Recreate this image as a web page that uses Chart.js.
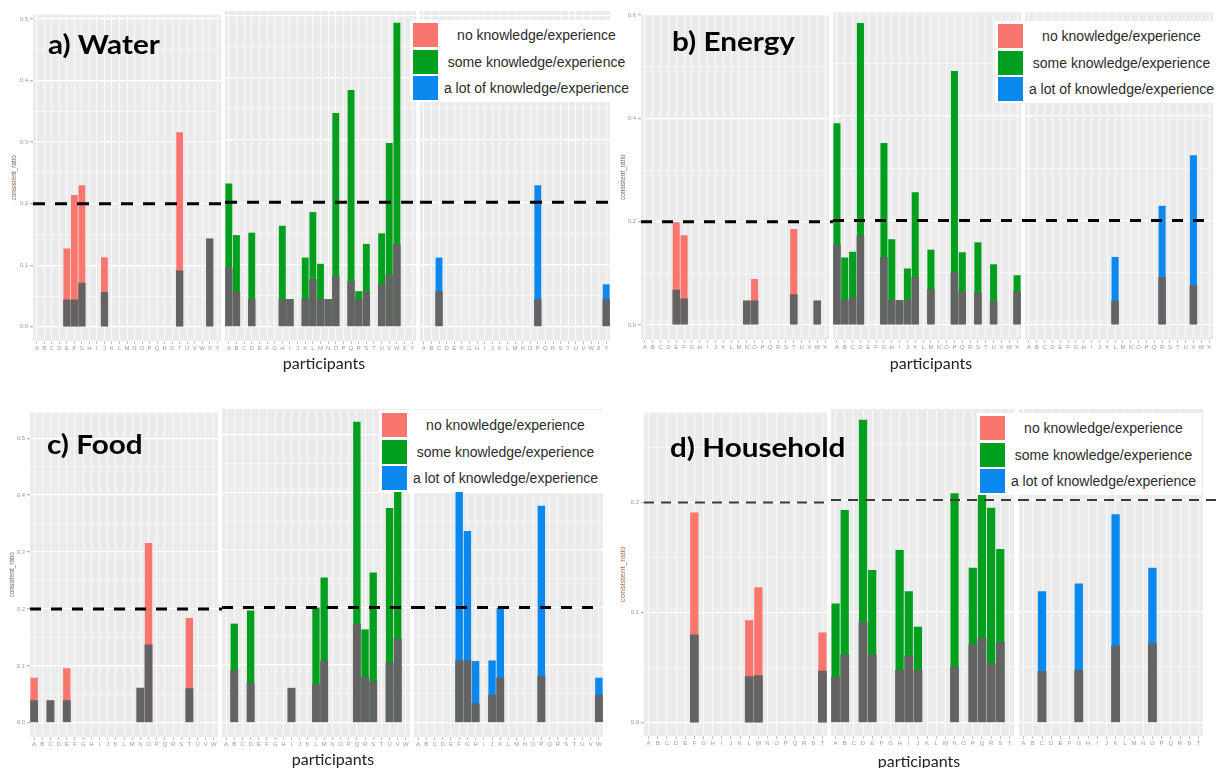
<!DOCTYPE html>
<html>
<head>
<meta charset="utf-8">
<script src="https://cdn.jsdelivr.net/npm/chart.js@4.4.1/dist/chart.umd.min.js"></script>
<style>
  body { margin: 0; width: 1220px; height: 768px; background: #fff; position: relative; overflow: hidden;
         font-family: "Liberation Sans", Arial, sans-serif; }
  canvas { position: absolute; }
  .title { position: absolute; font-family: Lato, sans-serif; font-weight: bold; font-size: 27px;
           line-height: 1; color: #000; white-space: nowrap; transform: scaleX(1.1); transform-origin: left top; }
  .xlab { position: absolute; font-family: Lato, sans-serif; font-size: 16px; line-height: 1;
          color: #222; transform: translateX(-50%); white-space: nowrap; }
  .legend { position: absolute; background: #fff; padding-top: 2px; }
  .row { display: flex; align-items: center; height: 26.5px; }
  .key { width: 25px; height: 24px; margin-left: 3px; flex: none; }
  .row span { flex: 1; text-align: center; font-size: 14px; color: #2b2b2b; white-space: nowrap; }
</style>
</head>
<body>
<script>
// participants per facet (x tick labels)
const waterLetters = "ABCDEFGHIJKLMNOPQRSTUVWXY".split("");
const energyLetters = "ABCDEFGHIJKLMNOPQRSTUVWX".split("");
const foodLetters = "ABCDEFGHIJKLMNOPQRSTUVW".split("");
const householdLetters = "ABCDEFGHIJKLMNOPQRST".split("");

// y ticks (grid) and the labelled ones
const waterTicks = [0, 0.05, 0.1, 0.15, 0.2, 0.25, 0.3, 0.35, 0.4, 0.45, 0.5];
const waterMajor = [0, 0.1, 0.2, 0.3, 0.4, 0.5];
const energyTicks = [0, 0.1, 0.2, 0.3, 0.4, 0.5, 0.6];
const energyMajor = [0, 0.2, 0.4, 0.6];
const foodTicks = [0, 0.05, 0.1, 0.15, 0.2, 0.25, 0.3, 0.35, 0.4, 0.45, 0.5];
const foodMajor = [0, 0.1, 0.2, 0.3, 0.4, 0.5];
const householdTicks = [0, 0.05, 0.1, 0.15, 0.2, 0.25];
const householdMajor = [0, 0.1, 0.2];

const threshold = 0.2;

const levelNames = ["no knowledge/experience", "some knowledge/experience", "a lot of knowledge/experience"];
const levelColors = ["#F8766D", "#00A01E", "#0A88EE"];
const baseColor = "#636363";

// a) Water
const waterNoIds = ["E", "F", "G", "J", "T", "X"];
const waterNoBase = [0.044, 0.044, 0.071, 0.056, 0.091, 0.143];
const waterNoTotal = [0.127, 0.214, 0.230, 0.113, 0.316, 0.143];
const waterSomeIds = ["A", "B", "D", "H", "I", "K", "L", "M", "N", "O", "Q", "R", "S", "U", "V", "W"];
const waterSomeBase = [0.094, 0.056, 0.044, 0.044, 0.044, 0.044, 0.076, 0.044, 0.044, 0.081, 0.073, 0.044, 0.056, 0.067, 0.083, 0.132];
const waterSomeTotal = [0.230, 0.147, 0.151, 0.162, 0.044, 0.111, 0.184, 0.101, 0.044, 0.343, 0.380, 0.057, 0.133, 0.150, 0.295, 0.488];
const waterLotIds = ["C", "P", "Y"];
const waterLotBase = [0.057, 0.044, 0.044];
const waterLotTotal = [0.111, 0.227, 0.068];

// b) Energy
const energyNoIds = ["E", "F", "N", "O", "T", "W"];
const energyNoBase = [0.068, 0.051, 0.047, 0.047, 0.059, 0.047];
const energyNoTotal = [0.199, 0.174, 0.047, 0.089, 0.186, 0.047];
const energySomeIds = ["A", "B", "C", "D", "G", "H", "I", "J", "K", "M", "P", "Q", "S", "U", "X"];
const energySomeBase = [0.153, 0.047, 0.052, 0.170, 0.129, 0.047, 0.047, 0.047, 0.091, 0.068, 0.100, 0.064, 0.061, 0.045, 0.064];
const energySomeTotal = [0.386, 0.129, 0.140, 0.578, 0.348, 0.164, 0.047, 0.108, 0.254, 0.144, 0.486, 0.139, 0.158, 0.116, 0.095];
const energyLotIds = ["L", "R", "V"];
const energyLotBase = [0.046, 0.091, 0.075];
const energyLotTotal = [0.130, 0.228, 0.325];

// c) Food
const foodNoIds = ["A", "C", "E", "N", "O", "T"];
const foodNoBase = [0.039, 0.039, 0.039, 0.061, 0.137, 0.060];
const foodNoTotal = [0.079, 0.039, 0.096, 0.061, 0.316, 0.184];
const foodSomeIds = ["B", "D", "I", "L", "M", "Q", "R", "S", "U", "V"];
const foodSomeBase = [0.091, 0.068, 0.060, 0.066, 0.107, 0.171, 0.079, 0.072, 0.104, 0.146];
const foodSomeTotal = [0.172, 0.195, 0.060, 0.200, 0.252, 0.523, 0.162, 0.261, 0.373, 0.410];
const foodLotIds = ["F", "G", "H", "J", "K", "P", "W"];
const foodLotBase = [0.108, 0.108, 0.033, 0.048, 0.078, 0.081, 0.048];
const foodLotTotal = [0.410, 0.333, 0.107, 0.108, 0.200, 0.377, 0.078];

// d) Household
const householdNoIds = ["F", "L", "M", "T"];
const householdNoBase = [0.080, 0.042, 0.043, 0.047];
const householdNoTotal = [0.191, 0.093, 0.123, 0.082];
const householdSomeIds = ["A", "B", "D", "E", "H", "I", "J", "N", "P", "Q", "R", "S"];
const householdSomeBase = [0.041, 0.061, 0.090, 0.061, 0.047, 0.060, 0.047, 0.050, 0.070, 0.076, 0.053, 0.072];
const householdSomeTotal = [0.107, 0.191, 0.272, 0.137, 0.155, 0.118, 0.086, 0.206, 0.139, 0.212, 0.193, 0.156];
const householdLotIds = ["C", "G", "K", "O"];
const householdLotBase = [0.046, 0.047, 0.069, 0.071];
const householdLotTotal = [0.118, 0.125, 0.187, 0.139];

// layout of the four panels (pixels on the page)
const panels = [
  { title: "a) Water", titlePos: [48, 30], xlabPos: [324, 355], legendPos: [410, 20],
    letters: waterLetters, ticks: waterTicks, major: waterMajor,
    facets: [[33, 221], [225, 416], [420, 610]], top: 11, bottom: 341, yMin: -0.023, yMax: 0.507,
    axisLeft: 10, dash: [12, 10], dashWidth: 3, dashColor: "#000", dashEnd: 0,
    yTitleSize: 6.5, yTitleColor: "#7a5a52",
    levels: [[waterNoIds, waterNoBase, waterNoTotal], [waterSomeIds, waterSomeBase, waterSomeTotal], [waterLotIds, waterLotBase, waterLotTotal]] },
  { title: "b) Energy", titlePos: [672, 27], xlabPos: [931, 355], legendPos: [995, 21],
    letters: energyLetters, ticks: energyTicks, major: energyMajor,
    facets: [[641, 829], [833, 1021], [1025, 1213]], top: 11, bottom: 340, yMin: -0.029, yMax: 0.601,
    axisLeft: 619, dash: [11, 10], dashWidth: 3, dashColor: "#000", dashEnd: 0,
    yTitleSize: 6.5, yTitleColor: "#7a5a52",
    levels: [[energyNoIds, energyNoBase, energyNoTotal], [energySomeIds, energySomeBase, energySomeTotal], [energyLotIds, energyLotBase, energyLotTotal]] },
  { title: "c) Food", titlePos: [47, 430], xlabPos: [333, 751], legendPos: [379, 410],
    letters: foodLetters, ticks: foodTicks, major: foodMajor,
    facets: [[30, 218], [222, 410], [414, 603]], top: 409, bottom: 737, yMin: -0.025, yMax: 0.545,
    axisLeft: 8, dash: [11, 10], dashWidth: 3, dashColor: "#000", dashEnd: 0,
    yTitleSize: 6.5, yTitleColor: "#7a5a52",
    levels: [[foodNoIds, foodNoBase, foodNoTotal], [foodSomeIds, foodSomeBase, foodSomeTotal], [foodLotIds, foodLotBase, foodLotTotal]] },
  { title: "d) Household", titlePos: [670, 433], xlabPos: [919, 753], legendPos: [977, 413],
    letters: householdLetters, ticks: householdTicks, major: householdMajor,
    facets: [[644, 827], [831, 1014], [1019, 1203]], top: 409, bottom: 736, yMin: -0.012, yMax: 0.2816,
    axisLeft: 618, dash: [10, 7], dashWidth: 2, dashColor: "#3a3a3a", dashEnd: 17,
    yTitleSize: 8, yTitleColor: "#b0684a",
    levels: [[householdNoIds, householdNoBase, householdNoTotal], [householdSomeIds, householdSomeBase, householdSomeTotal], [householdLotIds, householdLotBase, householdLotTotal]] }
];

const panelBg = {
  id: "panelBg",
  beforeDraw(chart) {
    const a = chart.chartArea, ctx = chart.ctx;
    ctx.save();
    ctx.fillStyle = "#ebebeb";
    ctx.fillRect(a.left, a.top, a.right - a.left, a.bottom - a.top);
    ctx.restore();
  }
};

const refLine = {
  id: "refLine",
  afterDatasetsDraw(chart, args, opts) {
    const ctx = chart.ctx;
    const y = chart.scales.y.getPixelForValue(threshold);
    ctx.save();
    ctx.setLineDash(opts.dash);
    ctx.lineWidth = opts.width;
    ctx.strokeStyle = opts.color;
    ctx.beginPath();
    ctx.moveTo(chart.chartArea.left, y);
    ctx.lineTo(chart.width, y);
    ctx.stroke();
    ctx.restore();
  }
};

const isMajor = (list, v) => list.some((m) => Math.abs(m - v) < 1e-9);

function makeFacet(p, fi) {
  const [x0, x1] = p.facets[fi];
  const first = fi === 0;
  const axisW = first ? x0 - p.axisLeft : 0;
  const padR = fi < 2 ? p.facets[fi + 1][0] - x1 : p.dashEnd;
  const padTop = 2, xAxisH = 14;
  const left = x0 - axisW;
  const w = x1 - left + padR;
  const h = p.bottom - p.top + padTop + xAxisH;

  const canvas = document.createElement("canvas");
  canvas.width = w;
  canvas.height = h;
  canvas.style.left = left + "px";
  canvas.style.top = (p.top - padTop) + "px";
  document.body.appendChild(canvas);

  const [ids, base, total] = p.levels[fi];
  // coloured bar = total, grey bar = base drawn over it
  const datasets = [
    { data: ids.map((id, i) => ({ x: id, y: total[i] })), backgroundColor: levelColors[fi], order: 1, inflateAmount: 0 },
    { data: ids.map((id, i) => ({ x: id, y: base[i] })), backgroundColor: baseColor, order: 0, inflateAmount: 0.25 }
  ].map((d) => ({ ...d, grouped: false, barPercentage: 0.9, categoryPercentage: 1, borderWidth: 0 }));

  new Chart(canvas, {
    type: "bar",
    data: { labels: p.letters, datasets },
    plugins: [panelBg, refLine],
    options: {
      responsive: false,
      animation: false,
      devicePixelRatio: 1,
      layout: { padding: { left: 0, right: padR, top: padTop, bottom: 0 } },
      plugins: {
        legend: { display: false },
        tooltip: { enabled: false },
        refLine: { dash: p.dash, width: p.dashWidth, color: p.dashColor }
      },
      scales: {
        x: {
          type: "category",
          offset: true,
          border: { display: false },
          grid: { offset: false, color: "#ffffff", lineWidth: 0.8, tickColor: "#b5b5b5", tickLength: 3 },
          ticks: { font: { size: 6, family: "Liberation Sans" }, color: "#9a9a9a", padding: 1,
                   autoSkip: false, maxRotation: 0, minRotation: 0 },
          afterFit: (s) => { s.height = xAxisH; }
        },
        y: {
          min: p.yMin,
          max: p.yMax,
          afterBuildTicks: (s) => { s.ticks = p.ticks.map((v) => ({ value: v })); },
          border: { display: false },
          grid: {
            color: "#ffffff",
            lineWidth: (c) => (isMajor(p.major, c.tick.value) ? 1.3 : 0.6),
            tickColor: (c) => (isMajor(p.major, c.tick.value) ? "#b5b5b5" : "rgba(0,0,0,0)"),
            tickLength: first ? 3 : 0
          },
          ticks: {
            display: first,
            font: { size: 6, family: "Liberation Sans" },
            color: "#9a9a9a",
            padding: 2,
            callback: (v) => (isMajor(p.major, v) ? v.toFixed(1) : "")
          },
          title: { display: first, text: "consistent_ratio", font: { size: p.yTitleSize, family: "Liberation Sans" },
                   color: p.yTitleColor, padding: 0 },
          afterFit: (s) => { s.width = axisW; }
        }
      }
    }
  });
}

function addText(cls, text, x, y) {
  const d = document.createElement("div");
  d.className = cls;
  d.textContent = text;
  d.style.left = x + "px";
  d.style.top = y + "px";
  document.body.appendChild(d);
}

function addLegend(x, y) {
  const box = document.createElement("div");
  box.className = "legend";
  box.style.left = x + "px";
  box.style.top = y + "px";
  box.style.width = "225px";
  box.style.height = "80px";
  levelNames.forEach((name, i) => {
    const row = document.createElement("div");
    row.className = "row";
    const key = document.createElement("div");
    key.className = "key";
    key.style.background = levelColors[i];
    const label = document.createElement("span");
    label.textContent = name;
    row.appendChild(key);
    row.appendChild(label);
    box.appendChild(row);
  });
  document.body.appendChild(box);
}

panels.forEach((p) => {
  [0, 1, 2].forEach((fi) => makeFacet(p, fi));
  addText("title", p.title, p.titlePos[0], p.titlePos[1]);
  addText("xlab", "participants", p.xlabPos[0], p.xlabPos[1]);
  addLegend(p.legendPos[0], p.legendPos[1]);
});
</script>
</body>
</html>
